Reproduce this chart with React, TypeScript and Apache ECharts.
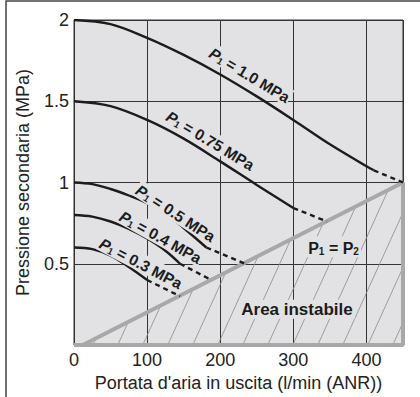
import React, { useEffect, useRef } from 'react';
import * as echarts from 'echarts';

const xTickStep = 100;
const yTickStep = 0.5;
const xMax = 450;
const yMax = 2;

// P1 curves (solid part, then dashed extension to the P1 = P2 line)
const p10Solid = [[0, 2.0], [50, 1.975], [100, 1.89], [150, 1.785], [200, 1.665], [250, 1.53], [300, 1.385], [350, 1.235], [400, 1.1], [410, 1.075]];
const p10Dash = [[410, 1.075], [450, 1.0]];
const p075Solid = [[0, 1.5], [50, 1.47], [100, 1.385], [150, 1.27], [200, 1.13], [250, 0.985], [300, 0.843]];
const p075Dash = [[300, 0.843], [346, 0.76]];
const p05Solid = [[0, 1.0], [25, 0.99], [50, 0.96], [75, 0.92], [100, 0.873], [125, 0.81], [150, 0.72], [181, 0.6]];
const p05Dash = [[181, 0.6], [234, 0.5]];
const p04Solid = [[0, 0.8], [25, 0.79], [50, 0.76], [75, 0.715], [100, 0.655], [125, 0.58], [145, 0.5]];
const p04Dash = [[145, 0.5], [188, 0.4]];
const p03Solid = [[0, 0.6], [25, 0.59], [50, 0.55], [75, 0.48], [100, 0.4]];
const p03Dash = [[100, 0.4], [145, 0.3]];

// Unstable area boundary (P1 = P2 line, bottom and right edge)
const unstableOutline = [[0, 0], [450, 0], [450, 1], [12, 0]];
const unstableTriangle = [12, 0, 450, 1];

// Curve labels: text, anchor (data coords), angle in degrees
const curveLabelTexts = ['1.0', '0.75', '0.5', '0.4', '0.3'];
const curveLabelAnchors = [[240.7, 1.665], [187, 1.262], [139.5, 0.815], [119, 0.668], [92, 0.507]];
const curveLabelAngles = [31, 31, 33, 29, 27.5];

const p1p2Anchor = [355, 0.605];
const areaAnchor = [305, 0.22];

const FONT = 'Liberation Sans, Arial, Helvetica, sans-serif';
const BG = '#e2e2e4';
const INK = '#1c1c1c';
const GRAY = '#a8a8a8';

export default function App() {
  const ref = useRef<HTMLDivElement>(null);
  useEffect(() => {
    if (!ref.current) return;
    const chart = echarts.init(ref.current, null, { renderer: 'svg' });
    const solid = (data: number[][]) => ({
      type: 'line', data, symbol: 'none', smooth: 0.35,
      lineStyle: { color: INK, width: 2.4 }, z: 5, silent: true,
    });
    const dashed = (data: number[][]) => ({
      type: 'line', data, symbol: 'none',
      lineStyle: { color: INK, width: 2.4, type: [5, 4] }, z: 5, silent: true,
    });
    chart.setOption({
      animation: false,
      grid: {
        left: 74, right: 17, top: 20, bottom: 51,
        show: true, backgroundColor: BG, borderColor: '#333', borderWidth: 1,
      },
      xAxis: {
        type: 'value', min: 0, max: xMax, interval: xTickStep,
        axisLine: { show: false }, axisTick: { show: false },
        splitLine: { show: true, lineStyle: { color: '#333', width: 1 } },
        axisLabel: { showMaxLabel: false, fontSize: 18, color: '#222', fontFamily: FONT, margin: 6 },
        name: "Portata d'aria in uscita (l/min (ANR))", nameLocation: 'middle', nameGap: 29,
        nameTextStyle: { fontSize: 18, color: '#222', fontFamily: FONT },
      },
      yAxis: {
        type: 'value', min: 0, max: yMax, interval: yTickStep,
        axisLine: { show: false }, axisTick: { show: false },
        splitLine: { show: true, lineStyle: { color: '#333', width: 1 } },
        axisLabel: { showMinLabel: false, fontSize: 18, color: '#222', fontFamily: FONT, margin: 5 },
        name: 'Pressione secondaria (MPa)', nameLocation: 'middle', nameGap: 42,
        nameTextStyle: { fontSize: 18, color: '#222', fontFamily: FONT },
      },
      series: [
        {
          type: 'custom', data: [unstableTriangle], silent: true, z: 2,
          renderItem: (params: any, api: any) => {
            const A = api.coord([api.value(0), api.value(1)]);
            const B = api.coord([api.value(2), api.value(1)]);
            const C = api.coord([api.value(2), api.value(3)]);
            const k = 2.2;
            const m = (A[1] - C[1]) / (B[0] - A[0]);
            const children: any[] = [];
            for (let x0 = A[0] + 10; x0 <= B[0]; x0 += 25) {
              let xe = (k * x0 - m * A[0]) / (k - m);
              if (xe > B[0]) xe = B[0];
              const ye = A[1] - k * (xe - x0);
              children.push({
                type: 'line',
                shape: { x1: x0, y1: A[1], x2: xe, y2: ye },
                style: { stroke: '#8a8a8a', lineWidth: 0.8 },
              });
            }
            return { type: 'group', children };
          },
        },
        {
          type: 'line', data: unstableOutline, symbol: 'none', silent: true, z: 3,
          lineStyle: { color: GRAY, width: 4 },
        },
        solid(p10Solid), dashed(p10Dash),
        solid(p075Solid), dashed(p075Dash),
        solid(p05Solid), dashed(p05Dash),
        solid(p04Solid), dashed(p04Dash),
        solid(p03Solid), dashed(p03Dash),
      ],
    });

    const toPx = (p: number[]) => chart.convertToPixel({ gridIndex: 0 }, p) as number[];
    const base = { fontWeight: 'bold', fontFamily: FONT, fill: INK, verticalAlign: 'bottom' };
    const graphics: any[] = [
      {
        type: 'rect', shape: { x: 6, y: 1, width: 600, height: 600 },
        style: { fill: 'none', stroke: '#444', lineWidth: 1.5 }, silent: true,
      },
    ];
    curveLabelTexts.forEach((t, i) => {
      const p = toPx(curveLabelAnchors[i]);
      graphics.push({
        type: 'text', x: p[0], y: p[1], rotation: -curveLabelAngles[i] * Math.PI / 180, z: 20,
        style: {
          text: `{i|P}{s|1}{n| = ${t} MPa}`,
          align: 'center', verticalAlign: 'middle',
          backgroundColor: BG, padding: [0, 1],
          rich: {
            i: { ...base, fontSize: 15.5, fontStyle: 'italic', lineHeight: 18 },
            s: { ...base, fontSize: 9.5, lineHeight: 12 },
            n: { ...base, fontSize: 15.5, lineHeight: 18 },
          },
          fontSize: 15.5, fontWeight: 'bold', fontFamily: FONT, fill: INK,
        },
      });
    });
    const pp = toPx(p1p2Anchor);
    graphics.push({
      type: 'text', x: pp[0], y: pp[1], z: 20,
      style: {
        text: '{n|P}{s|1}{n| = P}{s|2}', align: 'center', verticalAlign: 'middle',
        rich: {
          n: { ...base, fontSize: 16, lineHeight: 19 },
          s: { ...base, fontSize: 10, lineHeight: 13 },
        },
        fontSize: 16, fontWeight: 'bold', fontFamily: FONT, fill: INK,
        backgroundColor: BG, padding: [1, 2],
      },
    });
    const ap = toPx(areaAnchor);
    graphics.push({
      type: 'text', x: ap[0], y: ap[1], z: 20,
      style: {
        text: 'Area instabile', align: 'center', verticalAlign: 'middle',
        fontSize: 17, fontWeight: 'bold', fontFamily: FONT, fill: INK,
        backgroundColor: BG, padding: [1, 2],
      },
    });
    chart.setOption({ graphic: graphics });
    return () => chart.dispose();
  }, []);
  return <div ref={ref} style={{ width: 420, height: 397, position: 'absolute', left: 0, top: 0 }} />;
}
